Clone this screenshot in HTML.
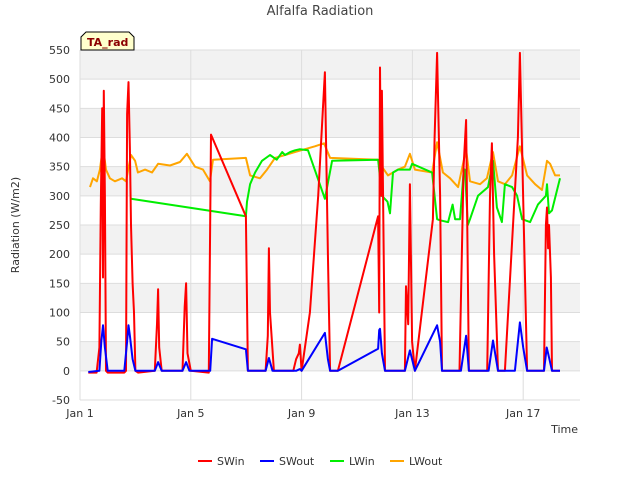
<!DOCTYPE html>
<html><head><meta charset="utf-8"><style>
body{margin:0;background:#fff;font-family:"Liberation Sans","DejaVu Sans",sans-serif}
svg text{font-family:"DejaVu Sans","Liberation Sans",sans-serif}
</style></head><body>
<svg id="chart" width="640" height="480" viewBox="0 0 640 480">
<rect width="640" height="480" fill="#fff"/>
<g id="bands"></g><g id="grid"></g><g id="series"></g><g id="axes"></g>
<text x="320" y="15" text-anchor="middle" font-size="13" fill="#444">Alfalfa Radiation</text>
<text x="19" y="225" text-anchor="middle" font-size="11" fill="#333" transform="rotate(-90 19 225)">Radiation (W/m2)</text>
<text x="578" y="433" text-anchor="end" font-size="11" fill="#333">Time</text>
<g>
<path d="M81,50 L81,37 L86,32 L129,32 L134,37 L134,50 Z" fill="#ffffcc" stroke="#000" stroke-width="1"/>
<text x="87" y="46" font-size="11" font-weight="bold" fill="#8b0000">TA_rad</text>
</g>
<g id="legend"></g>
</svg>
<script>
const yTicks=[-50,0,50,100,150,200,250,300,350,400,450,500,550];
const xTickDays=[1,5,9,13,17];
const xTickLabels=["Jan 1","Jan 5","Jan 9","Jan 13","Jan 17"];
const seriesNames=["SWin","SWout","LWin","LWout"];
const seriesColors=["#ff0000","#0000ff","#00ee00","#ffa500"];
const swinT=[1.3,1.6,1.7,1.75,1.8,1.83,1.86,1.9,1.94,2.0,2.1,2.6,2.66,2.7,2.75,2.8,2.84,2.9,2.95,3.0,3.1,3.7,3.78,3.82,3.86,3.95,4.7,4.78,4.83,4.88,5.0,5.65,5.73,6.99,7.06,7.7,7.78,7.82,7.86,8.0,8.7,8.8,8.9,8.94,9.0,9.3,9.6,9.84,9.95,10.03,10.31,11.76,11.8,11.83,11.87,11.9,12.01,12.73,12.77,12.85,12.91,12.99,13.09,13.74,13.8,13.89,14.0,14.07,14.7,14.85,14.94,15.04,15.7,15.8,15.87,15.95,16.09,16.34,16.81,16.88,16.95,17.14,17.75,17.82,17.86,17.9,17.93,18.0,18.04,18.33];
const swinV=[-3,-3,40,285,450,160,480,300,0,-3,-3,-3,0,440,495,380,250,150,100,0,-3,0,80,140,40,0,0,110,150,30,0,-3,405,265,0,0,60,210,100,0,0,20,30,45,0,100,300,512,200,0,0,265,100,520,300,480,0,0,145,80,320,50,0,260,400,545,300,0,0,350,430,0,0,300,390,200,0,0,400,545,400,0,0,250,280,210,250,160,0,0];
const swoutT=[1.3,1.7,1.77,1.83,1.9,2.0,2.6,2.7,2.75,2.8,2.9,3.0,3.7,3.82,3.95,4.7,4.83,4.95,5.7,5.77,6.99,7.06,7.7,7.82,7.95,8.8,8.94,9.0,9.84,9.95,10.03,10.31,11.76,11.8,11.83,11.9,12.01,12.73,12.91,13.09,13.89,14.0,14.07,14.75,14.94,15.04,15.75,15.91,16.09,16.7,16.88,17.0,17.14,17.75,17.85,17.9,18.04,18.33];
const swoutV=[-2,0,50,78,40,0,0,50,78,60,20,0,0,15,0,0,15,0,0,55,37,0,0,22,0,0,3,0,65,20,0,0,38,70,72,30,0,0,35,0,78,50,0,0,60,0,0,52,0,0,83,40,0,0,40,30,0,0];
const lwinT=[2.84,6.99,7.03,7.14,7.32,7.57,7.86,8.1,8.3,8.4,8.58,8.76,8.94,9.23,9.84,10.1,11.76,11.9,12.1,12.19,12.3,12.48,12.91,12.99,13.71,13.89,14.0,14.29,14.45,14.54,14.72,14.85,14.9,15.0,15.08,15.37,15.73,15.91,16.05,16.23,16.34,16.6,16.78,16.96,17.25,17.53,17.82,17.86,17.93,18.04,18.33];
const lwinV=[295,265,290,320,340,360,370,362,375,370,375,378,380,378,295,360,362,300,290,270,340,345,345,355,340,260,258,255,285,260,260,340,345,250,260,300,315,360,280,255,320,315,300,260,255,285,300,320,270,275,330];
const lwoutT=[1.36,1.47,1.61,1.72,1.83,1.94,2.08,2.26,2.52,2.66,2.84,2.99,3.09,3.35,3.6,3.82,4.25,4.61,4.86,5.15,5.44,5.69,5.8,6.99,7.14,7.5,7.75,8.04,8.4,8.76,9.12,9.48,9.81,10.03,11.76,11.9,12.12,12.48,12.73,12.91,13.09,13.71,13.89,14.1,14.36,14.65,14.94,15.08,15.44,15.69,15.91,16.09,16.34,16.6,16.88,17.14,17.43,17.68,17.86,17.97,18.15,18.33];
const lwoutV=[315,330,325,345,385,345,330,325,330,325,370,360,340,345,340,355,352,358,372,350,345,325,362,365,335,330,345,365,370,375,380,385,390,365,362,350,335,345,350,372,345,340,392,340,330,315,380,325,320,330,375,325,320,335,385,335,320,310,360,355,335,335];
const L=80,R=580,T=50,B=400;
const yS=v=>B-(v+50)*(B-T)/600;
const xS=d=>L+(d-1)*27.7;
const NS="http://www.w3.org/2000/svg";
function mk(tag,attrs,parent){const e=document.createElementNS(NS,tag);for(const k in attrs)e.setAttribute(k,attrs[k]);parent.appendChild(e);return e;}
const bands=document.getElementById('bands'),grid=document.getElementById('grid'),axes=document.getElementById('axes'),series=document.getElementById('series'),legend=document.getElementById('legend');
mk('rect',{x:L,y:T,width:R-L,height:B-T,fill:'#fff'},bands);
for(let v=0;v<550;v+=100){const r=mk('rect',{x:L,y:yS(v+50),width:R-L,height:yS(v)-yS(v+50),fill:'#f2f2f2'},bands);

}
yTicks.forEach(v=>{const l=mk('line',{x1:L,x2:R,y1:yS(v),y2:yS(v),stroke:'#dddddd','stroke-width':1},grid);


const t=mk('text',{x:L-10,y:yS(v)+4,'text-anchor':'end','font-size':11,fill:'#333'},axes);t.textContent=v;

});
xTickDays.forEach((d,i)=>{const l=mk('line',{x1:xS(d),x2:xS(d),y1:T,y2:B,stroke:'#dddddd','stroke-width':1},grid);


const t=mk('text',{x:xS(d),y:B+17,'text-anchor':'middle','font-size':11,fill:'#333'},axes);t.textContent=xTickLabels[i];

});
const data=[[swinT,swinV],[swoutT,swoutV],[lwinT,lwinV],[lwoutT,lwoutV]];
const order=[3,2,0,1];
order.forEach(i=>{const [t,v]=data[i];const pts=t.map((d,j)=>xS(d).toFixed(1)+','+yS(v[j]).toFixed(1)).join(' ');
const p=mk('polyline',{points:pts,fill:'none',stroke:seriesColors[i],'stroke-width':2,'stroke-linejoin':'round'},series);

});
const lx=[198,260,330,390];
seriesNames.forEach((n,i)=>{const g=mk('g',{},legend);


mk('line',{x1:lx[i],x2:lx[i]+14,y1:461,y2:461,stroke:seriesColors[i],'stroke-width':2},g);
const t=mk('text',{x:lx[i]+19,y:465,'font-size':11,fill:'#333'},g);t.textContent=n;});
</script>
</body></html>
